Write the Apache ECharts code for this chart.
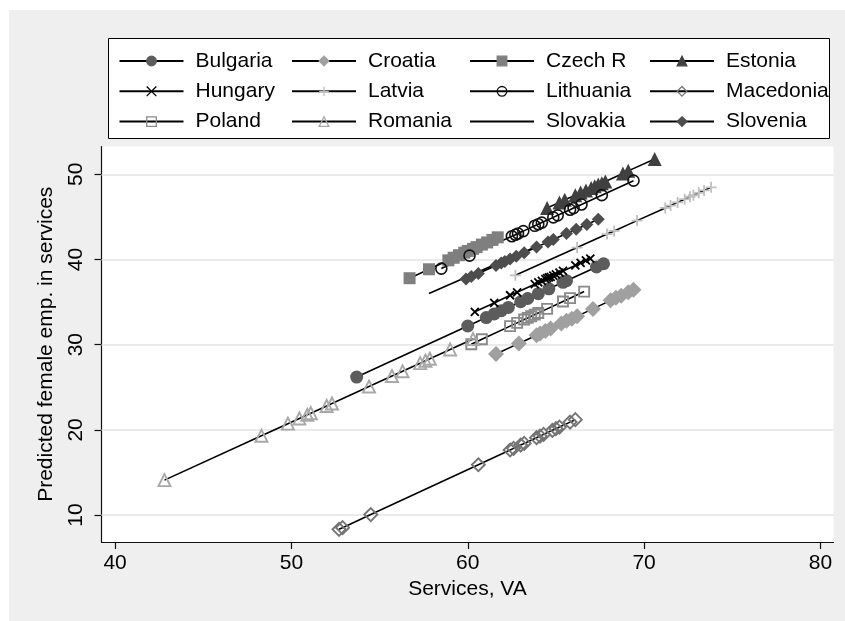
<!DOCTYPE html>
<html>
<head>
<meta charset="utf-8">
<script src="https://cdn.jsdelivr.net/npm/echarts@6/dist/echarts.min.js"></script>
<style>
html, body { margin: 0; padding: 0; background: #fff; }
#chart { width: 845px; height: 621px; }
</style>
</head>
<body>
<div id="chart"></div>
<script>
// [services VA, predicted female emp. in services]
const bulgaria = [[53.7, 26.2], [60.0, 32.19], [61.05, 33.18], [61.5, 33.61], [61.9, 33.99], [62.3, 34.37], [63.0, 35.04], [63.4, 35.42], [64.0, 35.99], [64.6, 36.56], [65.4, 37.32], [65.6, 37.51], [67.3, 39.12], [67.7, 39.5]];
const croatia = [[61.6, 28.9], [62.9, 30.15], [63.9, 31.1], [64.1, 31.3], [64.4, 31.6], [64.7, 31.9], [65.3, 32.5], [65.6, 32.8], [65.9, 33.05], [66.2, 33.35], [67.1, 34.2], [68.1, 35.2], [68.4, 35.5], [68.7, 35.75], [69.1, 36.15], [69.4, 36.45]];
const czech = [[56.7, 37.8], [57.8, 38.85], [58.9, 39.9], [59.2, 40.2], [59.5, 40.5], [59.8, 40.8], [60.0, 41.0], [60.3, 41.25], [60.5, 41.45], [60.8, 41.75], [61.1, 42.0], [61.4, 42.3], [61.7, 42.6]];
const estonia = [[64.5, 46.05], [65.2, 46.7], [65.5, 47.0], [66.1, 47.55], [66.4, 47.85], [66.7, 48.1], [67.0, 48.4], [67.2, 48.6], [67.4, 48.8], [67.6, 48.95], [67.8, 49.15], [68.8, 50.1], [69.1, 50.4], [70.6, 51.8]];
const hungary = [[60.4, 33.86], [61.5, 34.9], [62.4, 35.8], [62.8, 36.15], [63.8, 37.1], [64.0, 37.3], [64.2, 37.5], [64.4, 37.7], [64.5, 37.8], [64.6, 37.9], [64.7, 37.95], [64.85, 38.1], [65.0, 38.25], [65.2, 38.45], [65.4, 38.65], [66.1, 39.3], [66.4, 39.6], [66.7, 39.9], [66.95, 40.1]];
const latvia = [[62.7, 38.14], [66.2, 41.4], [67.9, 42.98], [68.3, 43.35], [69.6, 44.56], [71.2, 46.05], [71.5, 46.33], [71.9, 46.7], [72.3, 47.08], [72.6, 47.36], [72.8, 47.54], [73.1, 47.82], [73.4, 48.1], [73.8, 48.47]];
const lithuania = [[58.5, 38.93], [60.1, 40.45], [62.5, 42.72], [62.7, 42.9], [62.85, 43.05], [63.15, 43.33], [63.8, 43.95], [64.0, 44.14], [64.2, 44.33], [64.85, 44.94], [65.1, 45.18], [65.8, 45.84], [66.0, 46.03], [66.45, 46.46], [67.6, 47.55], [69.4, 49.25]];
const macedonia = [[52.7, 8.33], [52.9, 8.52], [54.5, 10.06], [60.6, 15.91], [62.4, 17.64], [62.6, 17.83], [63.0, 18.22], [63.2, 18.41], [63.9, 19.08], [64.1, 19.27], [64.3, 19.47], [64.8, 19.95], [65.0, 20.14], [65.2, 20.33], [65.8, 20.91], [66.1, 21.2]];
const poland = [[60.2, 30.05], [60.8, 30.63], [62.4, 32.18], [62.8, 32.56], [63.2, 32.95], [63.4, 33.14], [63.6, 33.34], [63.8, 33.53], [64.0, 33.72], [64.5, 34.2], [65.4, 35.07], [65.8, 35.46], [66.6, 36.23]];
const romania = [[42.8, 14.1], [48.3, 19.31], [49.8, 20.73], [50.45, 21.34], [50.9, 21.77], [51.1, 21.96], [52.0, 22.81], [52.3, 23.1], [54.4, 25.09], [55.7, 26.32], [56.3, 26.88], [57.3, 27.83], [57.6, 28.12], [57.85, 28.35], [59.0, 29.44], [60.3, 30.67]];
const slovakia = [[57.8, 36.0], [61.0, 38.9], [64.0, 41.6]];
const slovenia = [[59.9, 37.7], [60.2, 37.99], [60.6, 38.36], [61.6, 39.3], [61.9, 39.58], [62.1, 39.76], [62.4, 40.05], [62.75, 40.37], [63.2, 40.79], [63.9, 41.45], [64.55, 42.06], [64.85, 42.34], [65.6, 43.04], [66.15, 43.55], [66.75, 44.11], [67.4, 44.72]];

const xTicks = [40, 50, 60, 70, 80];
const yTicks = [10, 20, 30, 40, 50];

const FONT = "'Liberation Sans', Arial, sans-serif";
const cross = "path://M0,0L10,10M10,0L0,10";
const plus = "path://M5,0L5,10M0,5L10,5";
const clear = "rgba(255,255,255,0)";

// one connected line per country, black line + grey marker
function country(name, data, symbol, size, fill, stroke, bw) {
    return {
        name: name,
        type: "line",
        data: data,
        symbol: symbol,
        symbolSize: size,
        showSymbol: symbol !== "none",
        z: 2,
        lineStyle: { color: "#000", width: 1.6 },
        itemStyle: {
            color: fill,
            borderColor: stroke || fill,
            borderWidth: bw || 0
        }
    };
}

const series = [
    country("Bulgaria", bulgaria, "circle", 13, "#5c5c5c"),
    country("Croatia", croatia, "diamond", 16, "#a0a0a0"),
    country("Czech R", czech, "rect", 12, "#7f7f7f"),
    country("Estonia", estonia, "triangle", 14, "#404040"),
    country("Hungary", hungary, cross, 8, "#000", "#000", 1.8),
    country("Latvia", latvia, plus, 11, "#c0c0c0", "#c0c0c0", 1.8),
    country("Lithuania", lithuania, "circle", 11, clear, "#111", 1.6),
    country("Macedonia", macedonia, "diamond", 13, clear, "#757575", 1.9),
    country("Poland", poland, "rect", 10, clear, "#8a8a8a", 1.9),
    country("Romania", romania, "triangle", 12, clear, "#a8a8a8", 1.9),
    country("Slovakia", slovakia, "none", 0, clear),
    country("Slovenia", slovenia, "diamond", 13, "#4d4d4d")
];

// horizontal grid lines at the y ticks
series.unshift({
    name: "grid",
    type: "line",
    data: [],
    z: 1,
    silent: true,
    markLine: {
        z: 1,
        silent: true,
        symbol: "none",
        label: { show: false },
        lineStyle: { color: "#e3e3e3", width: 1.5, type: "solid" },
        data: yTicks.map(v => ({ yAxis: v }))
    }
});

const legendCols = [
    { left: 118.5, names: ["Bulgaria", "Hungary", "Poland"] },
    { left: 291, names: ["Croatia", "Latvia", "Romania"] },
    { left: 469, names: ["Czech R", "Lithuania", "Slovakia"] },
    { left: 649, names: ["Estonia", "Macedonia", "Slovenia"] }
];

const option = {
    backgroundColor: "#efefef",
    animation: false,
    graphic: [
        { type: "rect", shape: { x: 0, y: 0, width: 845, height: 10 }, style: { fill: "#fff" }, silent: true },
        { type: "rect", shape: { x: 0, y: 0, width: 9, height: 621 }, style: { fill: "#fff" }, silent: true },
        {
            type: "rect",
            shape: { x: 108.5, y: 38.5, width: 721, height: 100 },
            style: { fill: "#fff", stroke: "#000", lineWidth: 1 },
            silent: true
        }
    ],
    legend: legendCols.map(c => ({
        data: c.names,
        orient: "vertical",
        left: c.left,
        top: 50.5,
        padding: 0,
        itemGap: 9.3,
        itemWidth: 64,
        itemHeight: 12,
        selectedMode: false,
        itemStyle: { borderWidth: 1.3 },
        textStyle: { fontSize: 21, fontFamily: FONT, color: "#000", padding: [0, 0, 0, 7] }
    })),
    grid: {
        left: 101.5,
        top: 146.5,
        right: 11.5,
        bottom: 79,
        show: true,
        backgroundColor: "#fff",
        borderWidth: 0
    },
    xAxis: {
        type: "value",
        min: 39.23,
        max: 80.74,
        name: "Services, VA",
        nameLocation: "middle",
        nameGap: 36,
        nameTextStyle: { fontSize: 21, fontFamily: FONT, color: "#000" },
        axisLine: { lineStyle: { color: "#111", width: 1.2 } },
        axisTick: { customValues: xTicks, length: 7, lineStyle: { color: "#111", width: 1.2 } },
        axisLabel: { customValues: xTicks, fontSize: 21, fontFamily: FONT, color: "#000", margin: 11 },
        splitLine: { show: false }
    },
    yAxis: {
        type: "value",
        min: 6.84,
        max: 53.26,
        name: "Predicted female emp. in services",
        nameLocation: "middle",
        nameRotate: 90,
        nameGap: 45,
        nameTextStyle: { fontSize: 21, fontFamily: FONT, color: "#000" },
        axisLine: { show: true, lineStyle: { color: "#111", width: 1.2 } },
        axisTick: { show: true, customValues: yTicks, length: 7, lineStyle: { color: "#111", width: 1.2 } },
        axisLabel: { customValues: yTicks, rotate: 90, fontSize: 21, fontFamily: FONT, color: "#000", margin: 15 },
        splitLine: { show: false }
    },
    series: series
};

const chart = echarts.init(document.getElementById("chart"));
chart.setOption(option);
</script>
</body>
</html>
